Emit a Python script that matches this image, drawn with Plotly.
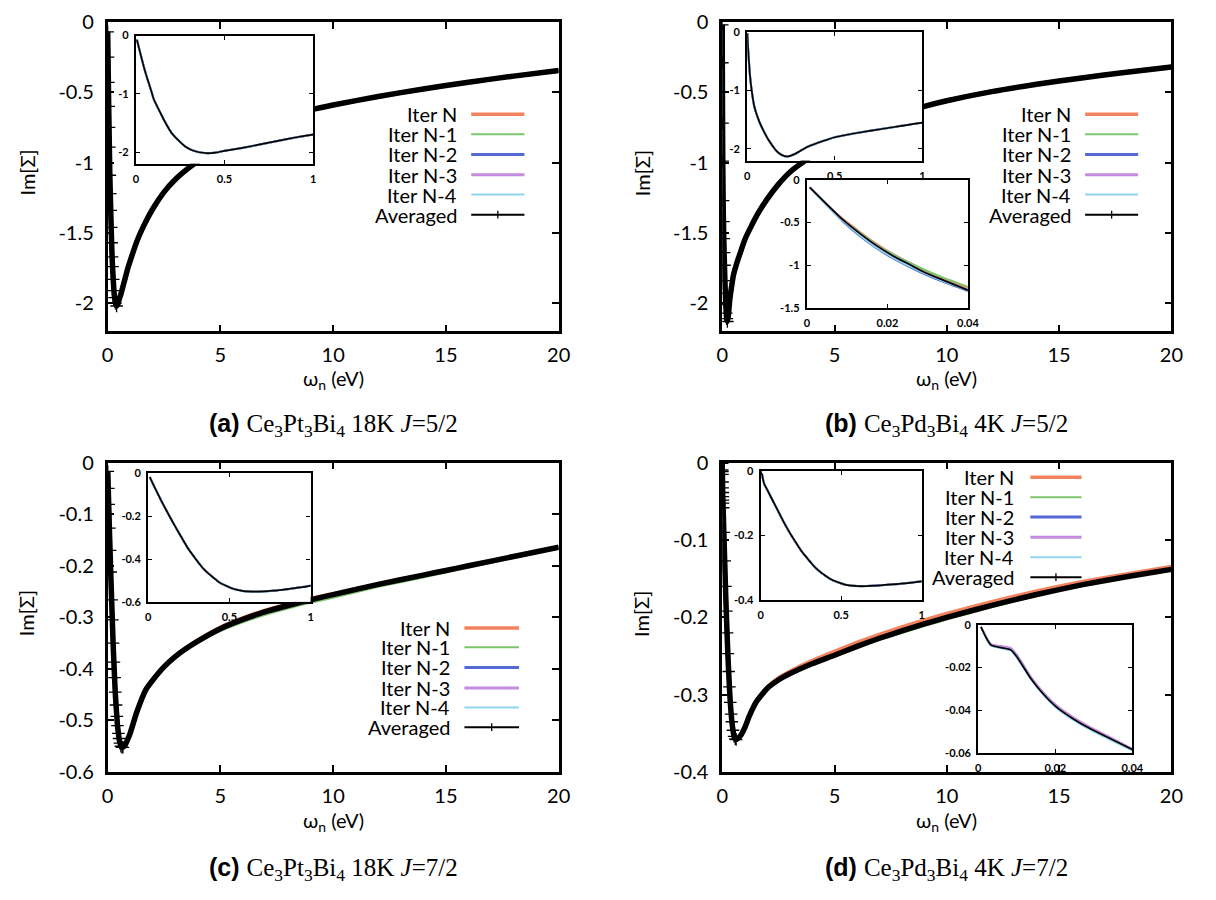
import plotly.graph_objects as go

PAGE_W, PAGE_H = 1216, 900
OFF = 8                      # default page body margin
W, H = PAGE_W - 2 * OFF, PAGE_H - 2 * OFF
FONT = "Lato"

# ---------------- data ----------------
SERIES_NAMES = ["Iter N", "Iter N-1", "Iter N-2", "Iter N-3", "Iter N-4", "Averaged"]
SERIES_COLORS = ["#f2835e", "#7cc56b", "#5469d4", "#c48cdc", "#8ed5ef", "#000000"]

MAIN_X_TICKS = [0, 5, 10, 15, 20]
MAIN_X_TEXT = ["0", "5", "10", "15", "20"]
AB_Y_TICKS = [0, -0.5, -1, -1.5, -2]
AB_Y_TEXT = ["0", "-0.5", "-1", "-1.5", "-2"]
C_Y_TICKS = [0, -0.1, -0.2, -0.3, -0.4, -0.5, -0.6]
C_Y_TEXT = ["0", "-0.1", "-0.2", "-0.3", "-0.4", "-0.5", "-0.6"]
D_Y_TICKS = [0, -0.1, -0.2, -0.3, -0.4]
D_Y_TEXT = ["0", "-0.1", "-0.2", "-0.3", "-0.4"]
INSET_X_TICKS = [0, 0.5, 1]
INSET_X_TEXT = ["0", "0.5", "1"]
ZOOM_X_TICKS = [0, 0.02, 0.04]
ZOOM_X_TEXT = ["0", "0.02", "0.04"]
AB_INSET_Y_TICKS = [0, -1, -2]
AB_INSET_Y_TEXT = ["0", "-1", "-2"]
B_ZOOM_Y_TICKS = [0, -0.5, -1, -1.5]
B_ZOOM_Y_TEXT = ["0", "-0.5", "-1", "-1.5"]
C_INSET_Y_TICKS = [0, -0.2, -0.4, -0.6]
C_INSET_Y_TEXT = ["0", "-0.2", "-0.4", "-0.6"]
D_INSET_Y_TICKS = [0, -0.2, -0.4]
D_INSET_Y_TEXT = ["0", "-0.2", "-0.4"]
D_ZOOM_Y_TICKS = [0, -0.02, -0.04, -0.06]
D_ZOOM_Y_TEXT = ["0", "-0.02", "-0.04", "-0.06"]

CAPTIONS = [
    "<b>(a)</b> <span style='font-family:Liberation Serif;font-weight:normal'>Ce<sub>3</sub>Pt<sub>3</sub>Bi<sub>4</sub> 18K <i>J</i>=5/2</span>",
    "<b>(b)</b> <span style='font-family:Liberation Serif;font-weight:normal'>Ce<sub>3</sub>Pd<sub>3</sub>Bi<sub>4</sub> 4K <i>J</i>=5/2</span>",
    "<b>(c)</b> <span style='font-family:Liberation Serif;font-weight:normal'>Ce<sub>3</sub>Pt<sub>3</sub>Bi<sub>4</sub> 18K <i>J</i>=7/2</span>",
    "<b>(d)</b> <span style='font-family:Liberation Serif;font-weight:normal'>Ce<sub>3</sub>Pd<sub>3</sub>Bi<sub>4</sub> 4K <i>J</i>=7/2</span>",
]
X_TITLE = "\u03c9<sub>n</sub> (eV)"
Y_TITLE = "Im[\u03a3]"

# (a) Ce3Pt3Bi4 18K J=5/2
A_X = [0.005, 0.02, 0.035, 0.05, 0.065, 0.08, 0.1, 0.12, 0.14, 0.16, 0.18, 0.2, 0.22,
       0.25, 0.28, 0.31, 0.35, 0.4, 0.45, 0.5, 0.6, 0.7, 0.8, 0.9, 1.0,
       1.3, 1.6, 2.0, 2.5, 3.0, 3.5, 4.0, 5, 6, 7, 8, 9, 10, 12, 14, 16, 18, 20]
A_AVG = [-0.07, -0.25, -0.43, -0.6, -0.75, -0.89, -1.09, -1.22, -1.34, -1.46, -1.57, -1.67, -1.74,
         -1.83, -1.91, -1.96, -2.0, -2.02, -2.01, -1.98, -1.93, -1.87, -1.81, -1.75, -1.70,
         -1.56, -1.45, -1.33, -1.21, -1.12, -1.05, -0.99, -0.885, -0.795, -0.725, -0.67, -0.625,
         -0.59, -0.53, -0.476, -0.428, -0.385, -0.345]
A_ITERS = [A_AVG, A_AVG, A_AVG, A_AVG, A_AVG]

# (b) Ce3Pd3Bi4 4K J=5/2
B_X = [0.0005, 0.005, 0.015, 0.025, 0.04, 0.055, 0.07, 0.085, 0.1, 0.12, 0.14, 0.16, 0.18, 0.2,
       0.23, 0.27, 0.3, 0.34, 0.4, 0.5, 0.6, 0.7, 0.85, 1.0, 1.3, 1.6, 2.0, 2.5, 3.0,
       3.8, 4.5, 5, 6, 7, 8, 9, 10, 12, 14, 16, 18, 20]
B_AVG = [-0.02, -0.29, -0.72, -0.99, -1.27, -1.42, -1.54, -1.64, -1.73, -1.84, -1.93, -2.01, -2.07, -2.11,
         -2.13, -2.09, -2.04, -1.97, -1.9, -1.80, -1.74, -1.69, -1.62, -1.55, -1.45, -1.36, -1.26, -1.155, -1.07,
         -0.975, -0.905, -0.86, -0.78, -0.71, -0.65, -0.60, -0.56, -0.495, -0.443, -0.398, -0.357, -0.32]
B_ITERS = [B_AVG, B_AVG, B_AVG, B_AVG, B_AVG]
# (b) low-frequency zoom
B2_X = [0.0007, 0.005, 0.009, 0.0132, 0.0173, 0.0214, 0.0255, 0.0296, 0.0337, 0.04]
B2_AVG = [-0.09, -0.29, -0.47, -0.63, -0.77, -0.89, -0.99, -1.09, -1.17, -1.29]
B2_N = [-0.09, -0.29, -0.46, -0.61, -0.75, -0.87, -0.97, -1.07, -1.15, -1.27]
B2_N1 = [-0.09, -0.29, -0.47, -0.62, -0.76, -0.87, -0.97, -1.06, -1.14, -1.25]
B2_N2 = [-0.09, -0.30, -0.49, -0.66, -0.80, -0.92, -1.02, -1.11, -1.19, -1.30]
B2_N3 = [-0.09, -0.29, -0.47, -0.63, -0.77, -0.89, -0.99, -1.09, -1.17, -1.29]
B2_N4 = [-0.09, -0.30, -0.48, -0.65, -0.79, -0.91, -1.01, -1.10, -1.18, -1.29]

# (c) Ce3Pt3Bi4 18K J=7/2
C_X = [0.01, 0.03, 0.05, 0.08, 0.11, 0.14, 0.18, 0.21, 0.245, 0.28,
       0.31, 0.34, 0.375, 0.41, 0.44, 0.48, 0.51, 0.55, 0.59, 0.64,
       0.68, 0.75, 0.81, 0.9, 1.0, 1.3, 1.7, 2.0, 2.5, 3.0,
       3.5, 4, 5, 6, 7, 8, 9, 10, 12, 14, 15, 16, 18, 20]
C_AVG = [-0.017, -0.05, -0.081, -0.127, -0.17, -0.212, -0.266, -0.305, -0.35, -0.387,
         -0.417, -0.445, -0.47, -0.492, -0.51, -0.525, -0.535, -0.544, -0.55, -0.552,
         -0.552, -0.549, -0.545, -0.536, -0.525, -0.483, -0.44, -0.422, -0.396, -0.376,
         -0.360, -0.346, -0.322, -0.304, -0.289, -0.277, -0.266, -0.256, -0.236, -0.218, -0.209, -0.200, -0.182, -0.164]
C_N = [-0.017, -0.05, -0.081, -0.127, -0.17, -0.212, -0.266, -0.305, -0.35, -0.387,
       -0.417, -0.445, -0.47, -0.492, -0.51, -0.525, -0.535, -0.544, -0.55, -0.552,
       -0.552, -0.549, -0.545, -0.536, -0.525, -0.483, -0.44, -0.422, -0.396, -0.376,
       -0.360, -0.345, -0.320, -0.302, -0.287, -0.275, -0.264, -0.255, -0.236, -0.218, -0.209, -0.200, -0.182, -0.164]
C_N1 = [-0.017, -0.05, -0.081, -0.127, -0.17, -0.212, -0.266, -0.305, -0.35, -0.387,
        -0.417, -0.445, -0.47, -0.492, -0.51, -0.525, -0.535, -0.544, -0.55, -0.552,
        -0.552, -0.549, -0.545, -0.536, -0.525, -0.483, -0.44, -0.422, -0.397, -0.378,
        -0.363, -0.350, -0.327, -0.310, -0.295, -0.283, -0.272, -0.262, -0.241, -0.223, -0.213, -0.204, -0.185, -0.166]
C_ITERS = [C_N, C_N1, C_AVG, C_AVG, C_AVG]

# (d) Ce3Pd3Bi4 4K J=7/2
D_X = [0.0007, 0.0033, 0.0084, 0.0101, 0.0136, 0.017, 0.0204, 0.0247, 0.029, 0.0333,
       0.04, 0.072, 0.11, 0.144, 0.18, 0.215, 0.25, 0.287, 0.32, 0.36,
       0.4, 0.43, 0.48, 0.53, 0.58, 0.62, 0.72, 0.86, 1.0, 1.2,
       1.5, 2.0, 2.5, 3, 4, 5, 6, 7, 8, 9,
       10, 12, 14, 16, 18, 20]
D_AVG = [-0.001, -0.0095, -0.0117, -0.0152, -0.025, -0.0326, -0.0386, -0.044, -0.0485, -0.0523,
         -0.0583, -0.09, -0.127, -0.16, -0.192, -0.22, -0.247, -0.27, -0.29, -0.31,
         -0.325, -0.335, -0.346, -0.354, -0.357, -0.358, -0.356, -0.351, -0.343, -0.328,
         -0.31, -0.292, -0.281, -0.273, -0.26, -0.249, -0.2375, -0.227, -0.2175, -0.2085,
         -0.200, -0.1845, -0.1705, -0.158, -0.1475, -0.138]
D_N = [-0.001, -0.0095, -0.0117, -0.0152, -0.025, -0.0326, -0.0386, -0.044, -0.0485, -0.0523,
       -0.0583, -0.09, -0.127, -0.16, -0.192, -0.22, -0.247, -0.27, -0.29, -0.31,
       -0.325, -0.335, -0.346, -0.354, -0.357, -0.358, -0.356, -0.351, -0.343, -0.328,
       -0.31, -0.291, -0.279, -0.2705, -0.2565, -0.2445, -0.233, -0.2225, -0.213, -0.204,
       -0.1955, -0.1805, -0.1665, -0.1545, -0.1445, -0.135]
D_N1 = [-0.001, -0.0095, -0.0117, -0.0152, -0.025, -0.0326, -0.0386, -0.044, -0.0485, -0.0523,
        -0.0583, -0.09, -0.127, -0.16, -0.192, -0.22, -0.247, -0.27, -0.29, -0.31,
        -0.325, -0.335, -0.346, -0.354, -0.357, -0.358, -0.356, -0.351, -0.343, -0.328,
        -0.31, -0.292, -0.281, -0.273, -0.261, -0.251, -0.240, -0.2295, -0.2205, -0.2115,
        -0.203, -0.187, -0.1725, -0.159, -0.148, -0.138]
D_ITERS = [D_N, D_N1, D_AVG, D_AVG, D_AVG]
# (d) low-frequency zoom
D2_X = [0.0007, 0.0033, 0.0084, 0.0101, 0.0136, 0.017, 0.0204, 0.0247, 0.029, 0.0333, 0.04]
D2_AVG = [-0.001, -0.0095, -0.0117, -0.0152, -0.025, -0.0326, -0.0386, -0.044, -0.0485, -0.0523, -0.0583]
D2_N = [-0.001, -0.0094, -0.0115, -0.015, -0.0247, -0.0322, -0.038, -0.0434, -0.0479, -0.0518, -0.0585]
D2_N1 = [-0.001, -0.0095, -0.0116, -0.0151, -0.0249, -0.0325, -0.0385, -0.0439, -0.0484, -0.0522, -0.0584]
D2_N2 = [-0.001, -0.0092, -0.011, -0.0143, -0.0244, -0.0321, -0.0381, -0.0436, -0.0481, -0.052, -0.0582]
D2_N3 = [-0.001, -0.009, -0.0108, -0.0145, -0.0242, -0.0318, -0.0378, -0.0432, -0.0478, -0.0517, -0.058]
D2_N4 = [-0.001, -0.0097, -0.012, -0.0155, -0.0253, -0.033, -0.039, -0.0445, -0.049, -0.0528, -0.0588]

# ---------------- layout geometry (page pixels) ----------------
FRAMES = {  # left, right, top, bottom
    "a": (103, 561, 9, 327),
    "b": (727, 1183, 9, 327),
    "c": (103, 561, 462, 780),
    "d": (727, 1183, 462, 780),
}
INSET_FRAC = {  # fx0, fx1, fy_top, fy_bottom relative to the parent frame
    "a": (0.063, 0.4556, 0.044, 0.458),
    "b1": (0.0557, 0.4456, 0.033, 0.448),
    "b2": (0.1885, 0.547, 0.510, 0.925),
    "c": (0.09, 0.45, 0.0345, 0.450),
    "d1": (0.0857, 0.444, 0.026, 0.443),
    "d2": (0.570, 0.913, 0.524, 0.939),
}
LEGEND_POS = {  # text right, line x0, line x1, row centres (fractions from top)
    "a": (0.778, 0.806, 0.924, [0.298, 0.363, 0.428, 0.494, 0.558, 0.623]),
    "b": (0.782, 0.808, 0.926, [0.298, 0.363, 0.428, 0.494, 0.558, 0.623]),
    "c": (0.764, 0.791, 0.912, [0.534, 0.597, 0.662, 0.728, 0.791, 0.855]),
    "d": (0.655, 0.686, 0.800, [0.047, 0.112, 0.176, 0.241, 0.306, 0.370]),
}
LEGEND_WIDTHS = [3.5, 2, 3, 3, 2, 2]
MARKER_XMAX = {"a": 0.4, "b": 0.25, "c": 0.7, "d": 0.62}


def px(x):
    return (x - OFF) / W


def py(y):
    return 1 - (y - OFF) / H


def xdom(l, r):
    return [px(l), px(r)]


def ydom(t, b):
    return [py(b), py(t)]


def inset_px(panel, key):
    l, r, t, b = FRAMES[panel]
    fx0, fx1, fy0, fy1 = INSET_FRAC[key]
    w, h = r - l, b - t
    return (l + fx0 * w, l + fx1 * w, t + fy0 * h, t + fy1 * h)


fig = go.Figure()
layout = {}


def axis_pair(idx, box, xr, yr, xt, xtt, yt, ytt, main):
    l, r, t, b = box
    xname = "xaxis" if idx == 1 else f"xaxis{idx}"
    yname = "yaxis" if idx == 1 else f"yaxis{idx}"
    xid = "x" if idx == 1 else f"x{idx}"
    yid = "y" if idx == 1 else f"y{idx}"
    common = dict(
        ticks="inside", mirror="allticks", showline=True, linecolor="black",
        showgrid=False, zeroline=False, tickcolor="black", fixedrange=True,
    )
    if main:
        common.update(linewidth=2.6, ticklen=7, tickwidth=1.6,
                      tickfont=dict(family=FONT, size=20, color="black"))
    else:
        common.update(linewidth=2.2, ticklen=4, tickwidth=1.2,
                      tickfont=dict(family=FONT, size=11, color="black", weight="bold"))
    layout[xname] = dict(domain=xdom(l, r), range=xr, anchor=yid, tickvals=xt, ticktext=xtt,
                         ticklabelstandoff=(4 if main else 4), **common)
    layout[yname] = dict(domain=ydom(t, b), range=yr, anchor=xid, tickvals=yt, ticktext=ytt,
                         ticklabelstandoff=(7 if main else 3), **common)
    return xid, yid


PANELS = [
    ("a", 1, A_X, A_ITERS, A_AVG, [-2.2, 0], AB_Y_TICKS, AB_Y_TEXT),
    ("b", 2, B_X, B_ITERS, B_AVG, [-2.2, 0], AB_Y_TICKS, AB_Y_TEXT),
    ("c", 3, C_X, C_ITERS, C_AVG, [-0.6, 0], C_Y_TICKS, C_Y_TEXT),
    ("d", 4, D_X, D_ITERS, D_AVG, [-0.4, 0], D_Y_TICKS, D_Y_TEXT),
]

SPL = dict(shape="spline", smoothing=0.5)
MAIN_IDS = {}
for key, idx, xs, iters, avg, yr, yt, ytt in PANELS:
    xid, yid = axis_pair(idx, FRAMES[key], [0, 20], yr, MAIN_X_TICKS, MAIN_X_TEXT, yt, ytt, True)
    MAIN_IDS[key] = (xid, yid)
    iter_widths = [4.5, 1.8, 2.5, 2.5, 1.8]
    for name, col, ys, lw in zip(SERIES_NAMES[:5], SERIES_COLORS[:5], iters, iter_widths):
        fig.add_trace(go.Scatter(x=xs, y=ys, mode="lines", name=name, showlegend=False,
                                 line=dict(color=col, width=lw, **SPL), xaxis=xid, yaxis=yid))
    fig.add_trace(go.Scatter(x=xs, y=avg, mode="lines", name="Averaged", showlegend=False,
                             line=dict(color="black", width=5.5, **SPL), xaxis=xid, yaxis=yid))
    mx = [x for x in xs if x <= MARKER_XMAX[key]]
    my = avg[:len(mx)]
    fig.add_trace(go.Scatter(x=mx, y=my, mode="markers", name="Averaged", showlegend=False,
                             marker=dict(symbol="cross-thin", size=9, color="black",
                                         line=dict(width=1.3, color="black")),
                             xaxis=xid, yaxis=yid))

INSETS = [
    ("a", "a", 5, A_X, A_ITERS, A_AVG, [0, 1], [-2.2, 0], INSET_X_TICKS, INSET_X_TEXT, AB_INSET_Y_TICKS, AB_INSET_Y_TEXT),
    ("b", "b1", 6, B_X, B_ITERS, B_AVG, [0, 1], [-2.2, 0], INSET_X_TICKS, INSET_X_TEXT, AB_INSET_Y_TICKS, AB_INSET_Y_TEXT),
    ("b", "b2", 7, B2_X, [B2_N, B2_N1, B2_N2, B2_N3, B2_N4], B2_AVG, [0, 0.04], [-1.5, 0], ZOOM_X_TICKS, ZOOM_X_TEXT, B_ZOOM_Y_TICKS, B_ZOOM_Y_TEXT),
    ("c", "c", 8, C_X, C_ITERS, C_AVG, [0, 1], [-0.6, 0], INSET_X_TICKS, INSET_X_TEXT, C_INSET_Y_TICKS, C_INSET_Y_TEXT),
    ("d", "d1", 9, D_X, D_ITERS, D_AVG, [0, 1], [-0.4, 0], INSET_X_TICKS, INSET_X_TEXT, D_INSET_Y_TICKS, D_INSET_Y_TEXT),
    ("d", "d2", 10, D2_X, [D2_N, D2_N1, D2_N2, D2_N3, D2_N4], D2_AVG, [0, 0.04], [-0.06, 0], ZOOM_X_TICKS, ZOOM_X_TEXT, D_ZOOM_Y_TICKS, D_ZOOM_Y_TEXT),
]
for panel, key, idx, xs, iters, avg, xr, yr, xt, xtt, yt, ytt in INSETS:
    xid, yid = axis_pair(idx, inset_px(panel, key), xr, yr, xt, xtt, yt, ytt, False)
    for name, col, ys in zip(SERIES_NAMES[:5], SERIES_COLORS[:5], iters):
        fig.add_trace(go.Scatter(x=xs, y=ys, mode="lines", name=name, showlegend=False,
                                 line=dict(color=col, width=2, **SPL), xaxis=xid, yaxis=yid))
    fig.add_trace(go.Scatter(x=xs, y=avg, mode="lines", name="Averaged", showlegend=False,
                             line=dict(color="black", width=1.7, **SPL), xaxis=xid, yaxis=yid))

annotations = []
shapes = []
for (key, (l, r, t, b)), cap in zip(FRAMES.items(), CAPTIONS):
    xid, yid = MAIN_IDS[key]
    cx = (l + r) / 2
    top_row = t < 100
    annotations.append(dict(text=X_TITLE, xref="paper", yref="paper", x=px(cx), y=py(376 if top_row else 831),
                            xanchor="center", yanchor="middle", showarrow=False,
                            font=dict(family=FONT, size=20, color="black")))
    annotations.append(dict(text=Y_TITLE, xref="paper", yref="paper", x=px(l - 82), y=py((t + b) / 2 - 4),
                            xanchor="center", yanchor="middle", showarrow=False, textangle=-90,
                            font=dict(family=FONT, size=20, color="black")))
    annotations.append(dict(text=cap, xref="paper", yref="paper", x=px(cx), y=py(423 if top_row else 880),
                            xanchor="center", yanchor="middle", showarrow=False,
                            font=dict(family="Liberation Sans", size=25, color="black")))
    tx, lx0, lx1, rows = LEGEND_POS[key]
    h = b - t
    for name, col, lw, fy in zip(SERIES_NAMES, SERIES_COLORS, LEGEND_WIDTHS, rows):
        yy = 1 - fy
        annotations.append(dict(text=name, xref=f"{xid} domain", yref=f"{yid} domain", x=tx, y=yy,
                                xanchor="right", yanchor="middle", showarrow=False,
                                font=dict(family=FONT, size=20, color="black")))
        shapes.append(dict(type="line", xref=f"{xid} domain", yref=f"{yid} domain",
                           x0=lx0, x1=lx1, y0=yy, y1=yy, line=dict(color=col, width=lw), layer="above"))
        if name == "Averaged":
            xm = (lx0 + lx1) / 2
            shapes.append(dict(type="line", xref=f"{xid} domain", yref=f"{yid} domain",
                               x0=xm, x1=xm, y0=yy - 4 / h, y1=yy + 4 / h,
                               line=dict(color=col, width=1.3), layer="above"))

fig.update_layout(
    width=W, height=H, margin=dict(l=0, r=0, t=0, b=0),
    paper_bgcolor="white", plot_bgcolor="white", showlegend=False,
    annotations=annotations, shapes=shapes, **layout,
)
fig.write_html("out.html")
